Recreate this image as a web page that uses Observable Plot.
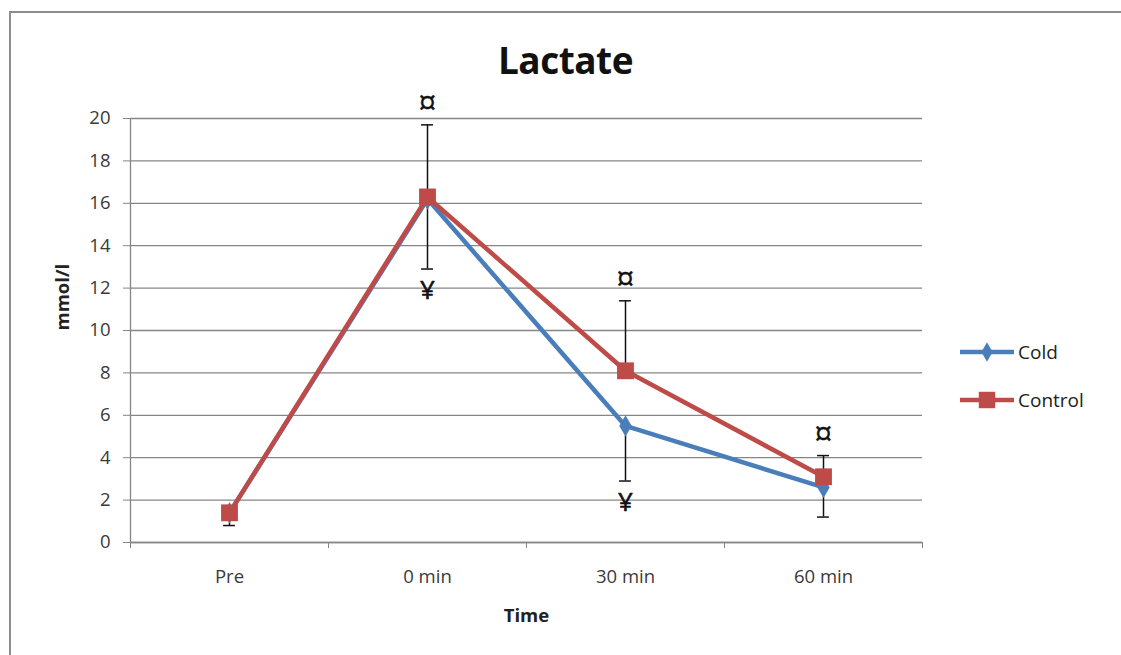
<!DOCTYPE html>
<html>
<head>
<meta charset="utf-8">
<script src="https://cdn.jsdelivr.net/npm/d3@7"></script>
<script src="https://cdn.jsdelivr.net/npm/@observablehq/plot@0.6"></script>
<style>
  html, body { margin: 0; padding: 0; background: #fff; }
  #wrap { position: relative; width: 1121px; height: 655px; overflow: hidden; font-family: "Open Sans", Lato, sans-serif; }
  #border { position: absolute; left: 9px; top: 11px; width: 1200px; height: 700px; border-left: 2px solid #8c8c8c; border-top: 2px solid #8c8c8c; box-sizing: border-box; }
  #title { position: relative; height: 80px; text-align: center; font-weight: bold; font-size: 37px; color: #111; line-height: 1; padding-top: 41px; box-sizing: border-box; padding-left: 10px; letter-spacing: -0.5px; }
  #chart { position: relative; }
  #legend { position: absolute; left: 958px; top: 339px; font-size: 19px; color: #222; }
  #legend .item { display: flex; align-items: center; height: 26px; margin-bottom: 22px; }
  #legend svg { margin-right: 2px; }
</style>
</head>
<body>
<div id="wrap">
  <div id="border"></div>
  <div id="title">Lactate</div>
  <div id="chart"></div>
  <div id="legend"></div>
</div>
<script>
// Blood lactate (mmol/l) at four time points for two groups.
const categories = ["Pre", "0 min", "30 min", "60 min"];
const coldMean = [1.4, 16.2, 5.5, 2.6];
const coldErr = [0.6, 3.3, 2.6, 1.4];      // drawn downward
const controlMean = [1.4, 16.3, 8.1, 3.1];
const controlErr = [0.3, 3.4, 3.3, 1.0];   // drawn upward
const markAbove = ["", "¤", "¤", "¤"];
const markBelow = ["", "¥", "¥", ""];
const yTicks = [0, 2, 4, 6, 8, 10, 12, 14, 16, 18, 20];

const coldColor = "#4a7ebb";
const controlColor = "#be4b48";
const gridColor = "#868686";
const capHalf = 0.03;

const cold = categories.map((c, i) => ({i, c, y: coldMean[i], end: coldMean[i] - coldErr[i], note: markBelow[i]}));
const control = categories.map((c, i) => ({i, c, y: controlMean[i], end: controlMean[i] + controlErr[i], note: markAbove[i]}));
const bounds = d3.range(categories.length + 1).map(k => k - 0.5);

function errorBars(data) {
  return [
    Plot.ruleX(data, {x: "i", y1: "y", y2: "end", stroke: "#111", strokeWidth: 1.5}),
    Plot.ruleY(data, {x1: d => d.i - capHalf, x2: d => d.i + capHalf, y: "end", stroke: "#111", strokeWidth: 1.5})
  ];
}

const chart = Plot.plot({
  width: 1121,
  height: 575,
  marginTop: 38,
  marginBottom: 113,
  marginLeft: 130,
  marginRight: 199,
  style: {fontFamily: "'Open Sans', Lato, sans-serif", fontSize: "18.5px", background: "transparent", overflow: "visible"},
  x: {type: "linear", domain: [-0.5, categories.length - 0.5]},
  y: {domain: [0, 20]},
  marks: [
    Plot.gridY(yTicks, {stroke: gridColor, strokeOpacity: 1, strokeWidth: 1.3}),
    Plot.ruleX([-0.5], {stroke: gridColor, strokeWidth: 1.3}),
    Plot.ruleY([0], {stroke: gridColor, strokeWidth: 1.3}),
    Plot.axisY(yTicks, {tickSize: 7, tickPadding: 13, stroke: gridColor, fill: "#3a3a3a", label: null}),
    Plot.axisX(bounds, {tickSize: 6, tickFormat: () => "", stroke: gridColor, label: null}),
    Plot.axisX(d3.range(categories.length), {tickSize: 0, tickPadding: 27, tickFormat: i => categories[i], fill: "#3a3a3a", label: null}),
    Plot.text(["Time"], {frameAnchor: "bottom", dy: 79, fontWeight: "bold", fontSize: 18.5, fill: "#222"}),
    Plot.text(["mmol/l"], {frameAnchor: "left", dx: -67, rotate: -90, fontWeight: "bold", fontSize: 18.5, fill: "#222"}),
    // Cold series
    Plot.line(cold, {x: "i", y: "y", stroke: coldColor, strokeWidth: 4.5}),
    ...errorBars(cold),
    Plot.dot(cold, {x: "i", y: "y", symbol: "diamond", r: 6.5, fill: coldColor, stroke: "none"}),
    // Control series
    Plot.line(control, {x: "i", y: "y", stroke: controlColor, strokeWidth: 4.5}),
    ...errorBars(control),
    Plot.dot(control, {x: "i", y: "y", symbol: "square", r: 9.5, fill: controlColor, stroke: "none"}),
    // significance markers
    Plot.text(control.filter(d => d.note), {x: "i", y: "end", text: "note", dy: -21, fontSize: 32, fill: "#111", stroke: "#111", strokeWidth: 0.4}),
    Plot.text(cold.filter(d => d.note), {x: "i", y: "end", text: "note", dy: 22, fontSize: 26, fill: "#111", stroke: "#111", strokeWidth: 0.6})
  ]
});
document.getElementById("chart").appendChild(chart);

// Legend
const legend = d3.select("#legend");
[["Cold", coldColor, "diamond"], ["Control", controlColor, "square"]].forEach(([name, color, shape]) => {
  const item = legend.append("div").attr("class", "item");
  const svg = item.append("svg").attr("width", 58).attr("height", 26);
  svg.append("line").attr("x1", 2).attr("x2", 56).attr("y1", 13).attr("y2", 13)
    .attr("stroke", color).attr("stroke-width", 4.5);
  const sym = shape === "square" ? d3.symbolSquare : d3.symbolDiamond;
  const size = shape === "square" ? 270 : 110;
  svg.append("path").attr("transform", "translate(29,13)")
    .attr("d", d3.symbol(sym, size)()).attr("fill", color);
  item.append("span").text(name);
});
</script>
</body>
</html>
